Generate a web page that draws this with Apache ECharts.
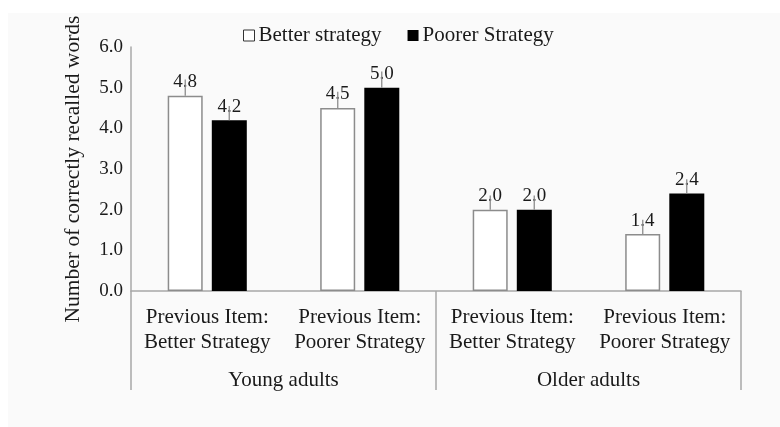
<!DOCTYPE html>
<html>
<head>
<meta charset="utf-8">
<script src="https://cdn.jsdelivr.net/npm/echarts@6/dist/echarts.min.js"></script>
<style>
  html, body { margin: 0; padding: 0; background: #fff; }
  #chart { width: 780px; height: 427px; }
</style>
</head>
<body>
<div id="chart"></div>
<script>
var categories = ['Previous Item:\nBetter Strategy', 'Previous Item:\nPoorer Strategy',
                  'Previous Item:\nBetter Strategy', 'Previous Item:\nPoorer Strategy'];
var groups = ['Young adults', 'Older adults'];
var betterValues = [4.8, 4.5, 2.0, 1.4];
var poorerValues = [4.2, 5.0, 2.0, 2.4];
var betterErrors = [0.4, 0.4, 0.35, 0.35];
var poorerErrors = [0.35, 0.4, 0.35, 0.35];
var yTicks = [0, 1, 2, 3, 4, 5, 6];

var font = 'Liberation Serif';
var textColor = '#1a1a1a';
var axisColor = '#a8a8a8';

// bar geometry: 35px bars, ~9px apart
var barW = 35, gapPx = 9;
var half = (barW + gapPx) / 2;

function errData(vals, errs) {
  return vals.map(function (v, i) { return [i, v, errs[i]]; });
}

function errRender(offset) {
  return function (params, api) {
    var base = api.coord([api.value(0), api.value(1)]);
    var top = api.coord([api.value(0), api.value(1) + api.value(2)]);
    return {
      type: 'line',
      shape: { x1: base[0] + offset, y1: base[1], x2: base[0] + offset, y2: top[1] },
      style: { stroke: '#8c8c8c', lineWidth: 1.3 }
    };
  };
}

var chart = echarts.init(document.getElementById('chart'));

var labelOpt = {
  show: true,
  position: 'top',
  distance: 4,
  fontFamily: font,
  fontSize: 19,
  color: textColor,
  formatter: function (p) { return p.value.toFixed(1); }
};

var option = {
  animation: false,
  backgroundColor: '#fff',
  graphic: [{
    type: 'rect',
    z: -10,
    shape: { x: 8, y: 13, width: 772, height: 414 },
    style: { fill: '#fafafa' }
  }],
  legend: {
    top: 20,
    left: 238,
    itemWidth: 11,
    itemHeight: 11,
    itemGap: 26,
    textStyle: { fontFamily: font, fontSize: 21, color: textColor, padding: [0, 0, 0, -1] },
    data: [
      { name: 'Better strategy', icon: 'rect', itemStyle: { color: '#fff', borderColor: '#333', borderWidth: 1 } },
      { name: 'Poorer Strategy', icon: 'rect', itemStyle: { color: '#000' } }
    ]
  },
  grid: { left: 131, right: 39, top: 47, bottom: 136 },
  xAxis: [
    {
      type: 'category',
      data: categories,
      axisLine: { show: true, lineStyle: { color: axisColor, width: 1.5 } },
      axisTick: { show: false },
      axisLabel: {
        interval: 0,
        margin: 14,
        fontFamily: font,
        fontSize: 21,
        lineHeight: 25,
        color: textColor
      }
    },
    {
      type: 'category',
      data: groups,
      position: 'bottom',
      axisLine: { show: false },
      axisTick: { show: true, length: 99, lineStyle: { color: axisColor, width: 1.5 } },
      axisLabel: {
        interval: 0,
        margin: 79,
        fontFamily: font,
        fontSize: 21,
        color: textColor
      }
    }
  ],
  yAxis: {
    type: 'value',
    min: yTicks[0],
    max: yTicks[yTicks.length - 1],
    interval: 1,
    name: 'Number of correctly recalled words',
    nameLocation: 'middle',
    nameGap: 47,
    nameTextStyle: { fontFamily: font, fontSize: 21.5, color: textColor },
    axisLine: { show: true, lineStyle: { color: axisColor, width: 1.5 } },
    axisTick: { show: false },
    splitLine: { show: false },
    axisLabel: {
      margin: 8,
      fontFamily: font,
      fontSize: 19,
      color: textColor,
      formatter: function (v) { return v.toFixed(1); }
    }
  },
  series: [
    {
      name: 'Better strategy',
      type: 'bar',
      barWidth: barW,
      barGap: (gapPx / barW * 100).toFixed(0) + '%',
      data: betterValues,
      itemStyle: { color: '#fff', borderColor: '#8c8c8c', borderWidth: 1.5 },
      label: labelOpt,
      z: 2
    },
    {
      name: 'Poorer Strategy',
      type: 'bar',
      barWidth: barW,
      data: poorerValues,
      itemStyle: { color: '#000' },
      label: labelOpt,
      z: 2
    },
    {
      type: 'custom',
      renderItem: errRender(-half),
      data: errData(betterValues, betterErrors),
      z: 3,
      silent: true
    },
    {
      type: 'custom',
      renderItem: errRender(half),
      data: errData(poorerValues, poorerErrors),
      z: 3,
      silent: true
    }
  ]
};

chart.setOption(option);
</script>
</body>
</html>
